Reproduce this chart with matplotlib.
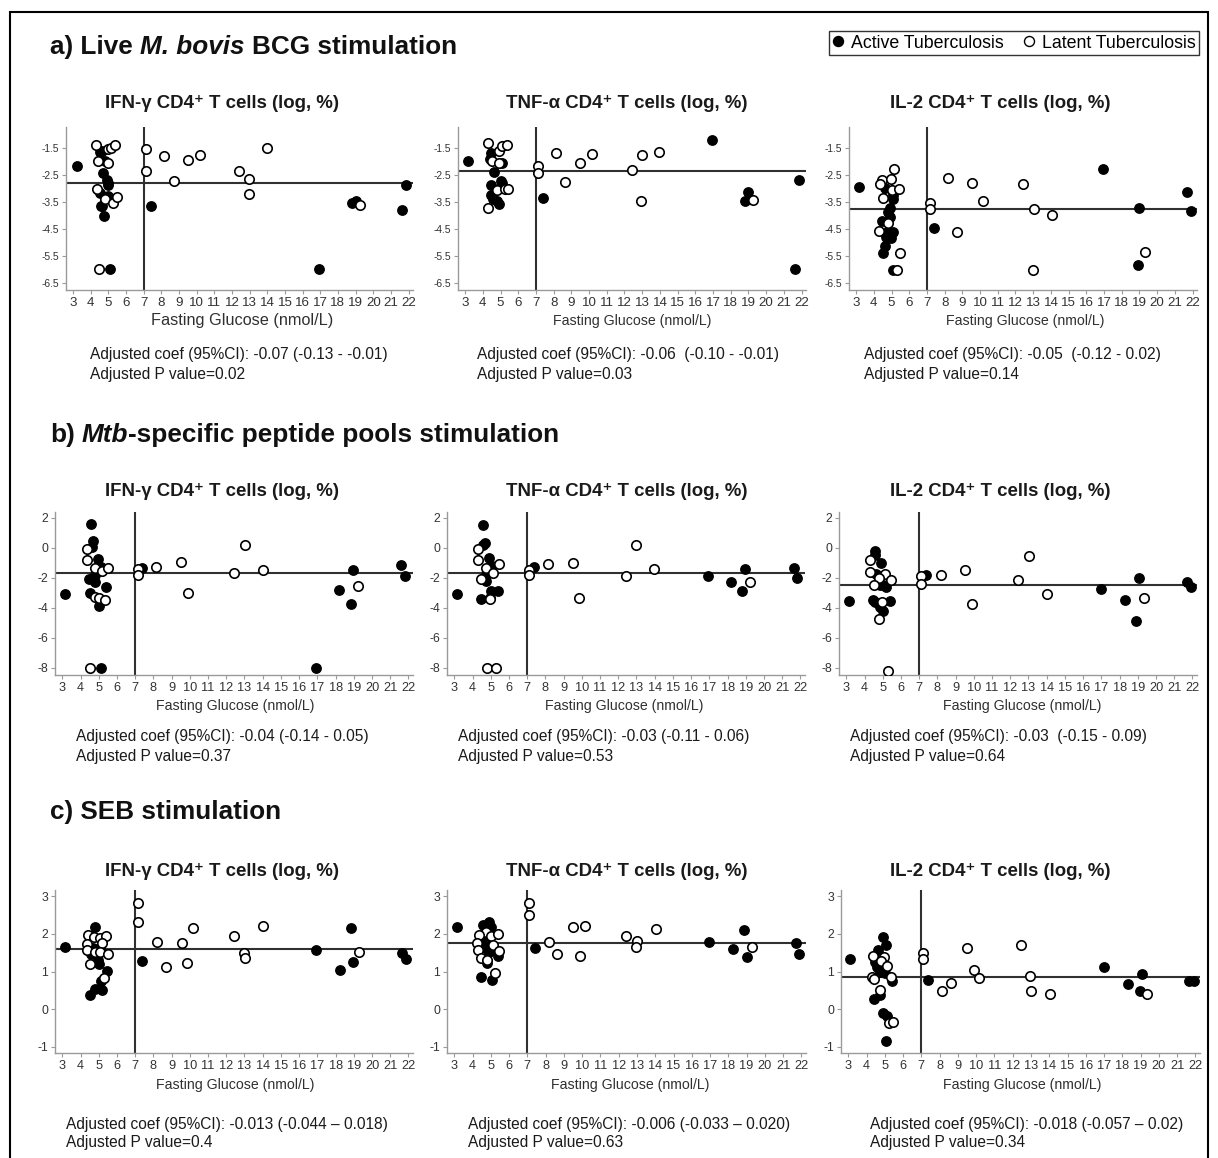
import matplotlib
matplotlib.use("Agg")
import matplotlib.pyplot as plt
from matplotlib.lines import Line2D
from matplotlib.patches import Rectangle

plt.rcParams['font.family'] = ['Liberation Sans', 'DejaVu Sans']

# ---------------- data ----------------
x_ticks = list(range(3, 23))
x_label = "Fasting Glucose (nmol/L)"
cytokines = ["IFN-\u03b3 CD4\u207a T cells (log, %)", "TNF-\u03b1 CD4\u207a T cells (log, %)", "IL-2 CD4\u207a T cells (log, %)"]
sections = ["a", "b", "c"]

# a) BCG, IFN-g
a_ifn_act_x = [3.2, 4.54, 4.62, 4.83, 4.7, 4.92, 4.96, 4.98, 4.54, 5.0, 4.58, 4.66, 4.73, 5.07, 7.41, 16.95, 18.8, 19.0, 21.65, 21.85]
a_ifn_act_y = [-2.16, -1.66, -1.6, -1.99, -2.43, -2.68, -2.82, -2.88, -3.19, -3.29, -3.66, -3.66, -4.02, -6.0, -3.67, -6.0, -3.53, -3.47, -3.8, -2.88]
a_ifn_lat_x = [4.32, 5.0, 5.15, 5.39, 4.41, 4.96, 4.36, 4.83, 5.26, 5.49, 4.49, 7.12, 7.12, 8.16, 8.69, 9.52, 10.16, 12.4, 12.96, 12.96, 14.0, 19.27]
a_ifn_lat_y = [-1.41, -1.56, -1.5, -1.38, -1.97, -2.06, -3.04, -3.38, -3.53, -3.31, -6.0, -1.56, -2.36, -1.79, -2.71, -1.95, -1.76, -2.36, -2.66, -3.22, -1.51, -3.62]
# a) BCG, TNF-a
a_tnf_act_x = [3.15, 4.45, 4.42, 5.08, 4.66, 5.02, 5.08, 4.47, 4.45, 4.6, 4.79, 4.92, 7.38, 16.96, 19.0, 18.8, 21.83, 21.62]
a_tnf_act_y = [-1.99, -1.70, -1.92, -2.05, -2.40, -2.73, -2.80, -2.89, -3.24, -3.41, -3.47, -3.59, -3.36, -1.20, -3.14, -3.47, -2.68, -6.0]
a_tnf_lat_x = [4.32, 4.94, 5.11, 5.36, 4.52, 4.94, 4.79, 5.26, 5.45, 4.32, 7.11, 7.11, 8.15, 8.66, 9.51, 10.17, 12.4, 13.0, 12.94, 13.96, 19.26]
a_tnf_lat_y = [-1.32, -1.62, -1.44, -1.38, -2.0, -2.05, -3.05, -3.03, -3.03, -3.72, -2.19, -2.44, -1.68, -2.77, -2.07, -1.72, -2.31, -1.78, -3.48, -1.64, -3.42]
# a) BCG, IL-2
a_il2_act_x = [3.17, 4.64, 5.08, 5.11, 4.94, 4.83, 4.94, 4.47, 4.74, 5.11, 4.7, 4.98, 4.64, 4.51, 5.08, 7.42, 16.96, 18.9, 19.0, 21.7, 21.9]
a_il2_act_y = [-2.95, -2.97, -3.25, -3.41, -3.74, -3.87, -4.05, -4.20, -4.60, -4.60, -4.81, -4.85, -5.13, -5.40, -6.01, -4.45, -2.30, -5.83, -3.74, -3.15, -3.84]
a_il2_lat_x = [4.45, 4.36, 4.98, 5.15, 5.02, 5.4, 4.53, 4.81, 4.32, 5.49, 5.3, 7.15, 7.15, 8.19, 8.70, 9.55, 10.17, 12.42, 13.04, 13.0, 14.04, 19.3]
a_il2_lat_y = [-2.68, -2.85, -2.64, -2.27, -3.07, -3.01, -3.37, -4.29, -4.58, -5.40, -6.01, -3.53, -3.78, -2.62, -4.62, -2.82, -3.46, -2.85, -3.77, -6.01, -4.0, -5.36]

# b) Mtb peptides, IFN-g
b_ifn_act_x = [3.15, 4.59, 4.68, 4.61, 4.95, 5.1, 4.77, 4.46, 4.7, 4.82, 5.42, 4.5, 5.0, 5.1, 7.38, 16.92, 18.2, 18.82, 18.97, 21.61, 21.8]
b_ifn_act_y = [-3.09, 1.62, 0.45, 0.08, -0.74, -1.25, -1.81, -2.07, -2.03, -2.25, -2.58, -2.98, -3.84, -8.0, -1.32, -8.0, -2.8, -3.75, -1.47, -1.14, -1.87]
b_ifn_lat_x = [4.33, 4.33, 4.77, 5.16, 5.5, 4.79, 5.0, 5.32, 4.51, 7.14, 7.14, 8.16, 9.51, 9.88, 12.4, 13.04, 13.99, 19.24]
b_ifn_lat_y = [-0.08, -0.77, -1.32, -1.54, -1.36, -3.29, -3.35, -3.46, -8.0, -1.43, -1.81, -1.25, -0.96, -3.02, -1.69, 0.23, -1.47, -2.54]
# b) Mtb peptides, TNF-a
b_tnf_act_x = [3.15, 4.59, 4.66, 4.59, 4.93, 5.06, 4.75, 4.75, 5.0, 5.42, 4.46, 7.37, 16.9, 18.2, 18.8, 18.97, 21.62, 21.8]
b_tnf_act_y = [-3.09, 1.56, 0.36, 0.19, -0.70, -1.19, -1.81, -2.2, -2.87, -2.87, -3.42, -1.25, -1.85, -2.25, -2.87, -1.43, -1.32, -1.98]
b_tnf_lat_x = [4.3, 4.3, 4.75, 5.48, 5.15, 4.46, 4.97, 4.97, 4.78, 5.29, 7.11, 7.11, 8.16, 9.5, 9.87, 12.41, 13.0, 13.97, 19.25]
b_tnf_lat_y = [-0.08, -0.81, -1.32, -1.08, -1.69, -2.07, -3.31, -3.42, -8.0, -8.0, -1.47, -1.81, -1.10, -0.99, -3.35, -1.85, 0.23, -1.43, -2.29]
# b) Mtb peptides, IL-2
b_il2_act_x = [3.13, 4.55, 4.55, 4.91, 4.65, 4.83, 5.04, 5.2, 4.45, 4.6, 5.42, 4.87, 5.0, 7.4, 17.0, 18.28, 18.9, 19.08, 21.7, 21.9]
b_il2_act_y = [-3.54, -0.19, -0.46, -0.98, -1.73, -2.5, -2.5, -2.6, -3.47, -3.58, -3.54, -3.93, -4.22, -1.78, -2.73, -3.48, -4.9, -2.0, -2.3, -2.57]
b_il2_lat_x = [4.28, 4.28, 5.11, 4.78, 5.48, 4.5, 4.97, 4.78, 5.3, 7.11, 7.11, 8.18, 9.53, 9.9, 12.45, 13.05, 14.03, 19.36]
b_il2_lat_y = [-0.8, -1.6, -1.71, -2.0, -2.12, -2.45, -3.62, -4.72, -8.23, -1.89, -2.39, -1.78, -1.44, -3.75, -2.16, -0.53, -3.09, -3.32]

# c) SEB, IFN-g
c_ifn_act_x = [3.15, 4.82, 4.68, 4.6, 5.05, 4.96, 5.02, 5.47, 5.11, 4.78, 5.2, 4.51, 7.38, 16.93, 18.24, 18.87, 18.96, 21.64, 21.84]
c_ifn_act_y = [1.66, 2.19, 1.62, 1.47, 1.62, 1.31, 1.20, 1.02, 0.76, 0.53, 0.50, 0.38, 1.29, 1.57, 1.03, 2.15, 1.24, 1.5, 1.33]
c_ifn_lat_x = [4.42, 4.75, 5.05, 5.42, 4.33, 5.16, 4.33, 4.82, 5.05, 5.49, 4.51, 5.29, 7.15, 7.15, 8.18, 8.69, 9.55, 9.87, 10.2, 12.42, 12.96, 13.02, 14.02, 19.27]
c_ifn_lat_y = [1.97, 1.91, 1.88, 1.94, 1.72, 1.75, 1.57, 1.53, 1.53, 1.47, 1.19, 0.82, 2.82, 2.30, 1.78, 1.13, 1.75, 1.22, 2.16, 1.93, 1.48, 1.37, 2.21, 1.53]
# c) SEB, TNF-a
c_tnf_act_x = [3.13, 4.59, 4.88, 5.01, 4.65, 4.83, 4.7, 4.88, 5.38, 4.77, 4.46, 5.05, 7.39, 16.95, 18.27, 18.87, 19.03, 21.68, 21.88]
c_tnf_act_y = [2.17, 2.23, 2.30, 2.19, 1.82, 1.75, 1.62, 1.52, 1.41, 1.22, 0.85, 0.78, 1.63, 1.79, 1.59, 2.10, 1.38, 1.75, 1.47]
c_tnf_lat_x = [4.74, 4.37, 5.01, 5.38, 4.24, 5.1, 4.28, 5.47, 4.46, 4.77, 5.25, 7.08, 7.08, 8.16, 8.63, 9.49, 9.86, 10.17, 12.41, 13.02, 12.96, 14.02, 19.3]
c_tnf_lat_y = [2.06, 1.97, 1.94, 2.0, 1.75, 1.70, 1.56, 1.54, 1.35, 1.30, 0.97, 2.82, 2.50, 1.77, 1.47, 2.17, 1.42, 2.21, 1.95, 1.82, 1.64, 2.12, 1.64]
# c) SEB, IL-2
c_il2_act_x = [3.1, 4.9, 5.07, 4.64, 4.46, 4.55, 4.83, 5.0, 4.75, 5.38, 4.73, 4.4, 4.88, 5.1, 5.07, 7.34, 17.0, 18.3, 18.95, 19.05, 21.67, 21.9]
c_il2_act_y = [1.33, 1.91, 1.70, 1.56, 1.26, 1.11, 1.09, 0.97, 1.0, 0.74, 0.38, 0.27, -0.10, -0.17, -0.83, 0.77, 1.11, 0.67, 0.49, 0.93, 0.74, 0.74]
c_il2_lat_x = [4.37, 4.96, 4.77, 5.1, 4.28, 4.4, 5.34, 4.73, 5.25, 5.47, 7.08, 7.08, 8.13, 8.64, 9.5, 9.87, 10.18, 12.44, 12.95, 13.02, 14.05, 19.36]
c_il2_lat_y = [1.40, 1.38, 1.28, 1.15, 0.85, 0.81, 0.85, 0.50, -0.37, -0.35, 1.49, 1.34, 0.49, 0.69, 1.62, 1.03, 0.83, 1.69, 0.87, 0.49, 0.40, 0.40]

# reference (median) lines and diabetes cut-off
h_lines = {"a": [-2.80, -2.36, -3.77], "b": [-1.65, -1.69, -2.50], "c": [1.60, 1.75, 0.86]}
glucose_cutoff = 7

y_ticks = {"a": [-1.5, -2.5, -3.5, -4.5, -5.5, -6.5], "b": [2, 0, -2, -4, -6, -8], "c": [3, 2, 1, 0, -1]}
y_tick_labels = {"a": ["-1.5", "-2.5", "-3.5", "-4.5", "-5.5", "-6.5"],
                 "b": ["2", "0", "-2", "-4", "-6", "-8"],
                 "c": ["3", "2", "1", "0", "-1"]}
y_lims = {"a": (-6.76, -0.73), "b": (-8.47, 2.4), "c": (-1.16, 3.16)}

coef_texts = {
    "a": ["Adjusted coef (95%CI): -0.07 (-0.13 - -0.01)", "Adjusted coef (95%CI): -0.06  (-0.10 - -0.01)", "Adjusted coef (95%CI): -0.05  (-0.12 - 0.02)"],
    "b": ["Adjusted coef (95%CI): -0.04 (-0.14 - 0.05)", "Adjusted coef (95%CI): -0.03 (-0.11 - 0.06)", "Adjusted coef (95%CI): -0.03  (-0.15 - 0.09)"],
    "c": ["Adjusted coef (95%CI): -0.013 (-0.044 \u2013 0.018)", "Adjusted coef (95%CI): -0.006 (-0.033 \u2013 0.020)", "Adjusted coef (95%CI): -0.018 (-0.057 \u2013 0.02)"],
}
p_texts = {
    "a": ["Adjusted P value=0.02", "Adjusted P value=0.03", "Adjusted P value=0.14"],
    "b": ["Adjusted P value=0.37", "Adjusted P value=0.53", "Adjusted P value=0.64"],
    "c": ["Adjusted P value=0.4", "Adjusted P value=0.63", "Adjusted P value=0.34"],
}
section_titles = {
    "a": [("a) Live ", "normal"), ("M. bovis", "italic"), (" BCG stimulation", "normal")],
    "b": [("b) ", "normal"), ("Mtb", "italic"), ("-specific peptide pools stimulation", "normal")],
    "c": [("c) SEB stimulation", "normal")],
}
legend_labels = ["Active Tuberculosis", "Latent Tuberculosis"]

panel_data = {
    "a": [(a_ifn_act_x, a_ifn_act_y, a_ifn_lat_x, a_ifn_lat_y),
          (a_tnf_act_x, a_tnf_act_y, a_tnf_lat_x, a_tnf_lat_y),
          (a_il2_act_x, a_il2_act_y, a_il2_lat_x, a_il2_lat_y)],
    "b": [(b_ifn_act_x, b_ifn_act_y, b_ifn_lat_x, b_ifn_lat_y),
          (b_tnf_act_x, b_tnf_act_y, b_tnf_lat_x, b_tnf_lat_y),
          (b_il2_act_x, b_il2_act_y, b_il2_lat_x, b_il2_lat_y)],
    "c": [(c_ifn_act_x, c_ifn_act_y, c_ifn_lat_x, c_ifn_lat_y),
          (c_tnf_act_x, c_tnf_act_y, c_tnf_lat_x, c_tnf_lat_y),
          (c_il2_act_x, c_il2_act_y, c_il2_lat_x, c_il2_lat_y)],
}

# ---------------- layout (pixels) ----------------
W, H = 1218, 1158
fig = plt.figure(figsize=(W / 100, H / 100), dpi=100)
fig.patch.set_facecolor("white")

def fx(px):
    return px / W

def fy(py):
    return 1 - py / H

axes_px = {
    "a": ([(66, 413), (458, 806), (849, 1197)], 127, 290),
    "b": ([(55, 413), (447, 805), (839, 1197)], 512, 675),
    "c": ([(55, 413), (447, 806), (841, 1200)], 890, 1053),
}
title_y = {"a": 104, "b": 491, "c": 871}
title_x = [222, 627, 1000]
xlabel_y = {"a": 321, "b": 706, "c": 1085}
xlabel_x = {"a": [242, 632, 1025], "b": [235, 624, 1022], "c": [235, 630, 1022]}
coef_x = {"a": [90, 477, 864], "b": [76, 458, 850], "c": [66, 468, 870]}
coef_y = {"a": (355, 375), "b": (736, 756), "c": (1124, 1143)}
section_y = {"a": 47, "b": 435, "c": 812}

spine_col = "#9a9a9a"
tick_col = "#333333"

for s in sections:
    cols, top, bot = axes_px[s]
    for i, (l, r) in enumerate(cols):
        ax = fig.add_axes([fx(l), fy(bot), fx(r - l), (bot - top) / H])
        ax_x, ax_y, lt_x, lt_y = panel_data[s][i]
        ax.axhline(h_lines[s][i], color="#303030", lw=1.5, zorder=1)
        ax.axvline(glucose_cutoff, color="#303030", lw=1.5, zorder=1)
        ax.scatter(ax_x, ax_y, s=46, facecolor="black", edgecolor="black", linewidth=1.0, zorder=3)
        ax.scatter(lt_x, lt_y, s=46, facecolor="white", edgecolor="black", linewidth=1.2, zorder=3)
        ax.set_xlim(2.6, 22.25)
        ax.set_ylim(*y_lims[s])
        ax.set_xticks(x_ticks)
        ax.set_xticklabels([str(t) for t in x_ticks])
        ax.set_yticks(y_ticks[s])
        ax.set_yticklabels(y_tick_labels[s])
        for sp in ["top", "right"]:
            ax.spines[sp].set_visible(False)
        for sp in ["left", "bottom"]:
            ax.spines[sp].set_color(spine_col)
            ax.spines[sp].set_linewidth(1.0)
        xs = 9.6 if s == "a" else 9.2
        ys = 7.4 if s == "a" else 8.8
        ax.tick_params(axis="x", length=3, width=0.8, color=spine_col, labelcolor=tick_col, labelsize=xs, pad=2)
        ax.tick_params(axis="y", length=3, width=0.8, color=spine_col, labelcolor=tick_col, labelsize=ys, pad=2)
        ax.set_facecolor("none")
        # titles / labels
        fig.text(fx(title_x[i]), fy(title_y[s]), cytokines[i], ha="center", va="center",
                 fontsize=13.4, fontweight="bold", color="#1a1a1a")
        fig.text(fx(xlabel_x[s][i]), fy(xlabel_y[s]), x_label, ha="center", va="center",
                 fontsize=(11.7 if (s == "a" and i == 0) else 10.2), color="#303030")
        fig.text(fx(coef_x[s][i]), fy(coef_y[s][0]), coef_texts[s][i], ha="left", va="center",
                 fontsize=11.2, color="#1a1a1a")
        fig.text(fx(coef_x[s][i]), fy(coef_y[s][1]), p_texts[s][i], ha="left", va="center",
                 fontsize=11.2, color="#1a1a1a")

# section titles with mixed italic
renderer = fig.canvas.get_renderer()

def text_width(s, **kw):
    t = fig.text(0, 0, s, **kw)
    w = t.get_window_extent(renderer).width
    t.remove()
    return w

for s in sections:
    x = 50.0
    kw = dict(fontsize=18.8, fontweight="bold", color="#111111")
    sp = text_width("x x", **kw) - text_width("xx", **kw)
    for piece, style in section_titles[s]:
        lead = len(piece) - len(piece.lstrip(" "))
        trail = len(piece) - len(piece.rstrip(" "))
        core = piece.strip(" ")
        x += lead * sp
        t = fig.text(fx(x), fy(section_y[s]), core, ha="left", va="center", style=style, **kw)
        x += t.get_window_extent(renderer).width
        x += trail * sp

# legend
handles = [Line2D([], [], marker="o", ls="", markersize=7.2, markerfacecolor="black", markeredgecolor="black"),
           Line2D([], [], marker="o", ls="", markersize=7.2, markerfacecolor="white", markeredgecolor="black", markeredgewidth=1.0)]
leg = fig.legend(handles, legend_labels, loc="upper right", bbox_to_anchor=(fx(1199), fy(31)), ncol=2,
                 fontsize=12.8, frameon=True, fancybox=False, edgecolor="black", handlelength=0.7,
                 handletextpad=0.35, columnspacing=1.1, borderpad=0.2, borderaxespad=0)
leg.get_frame().set_linewidth(1.0)

# outer border
fig.patches.append(Rectangle((fx(10), -0.02), fx(1198), fy(12) + 0.02, transform=fig.transFigure,
                             fill=False, edgecolor="black", linewidth=1.5))

fig.savefig("out.png", dpi=100)
